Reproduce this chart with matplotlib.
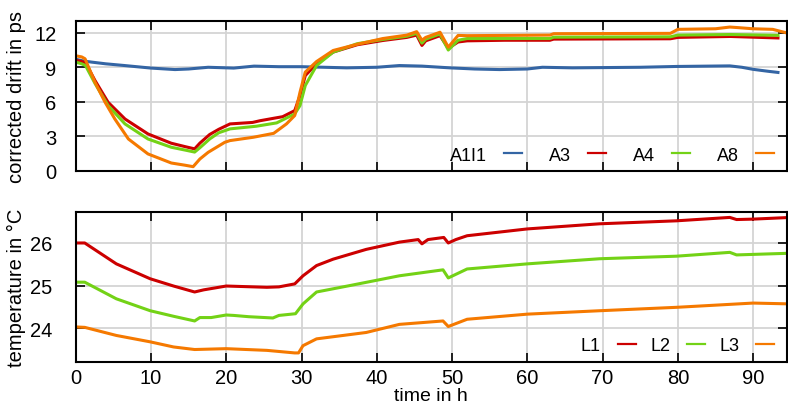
import matplotlib
matplotlib.use("Agg")
import matplotlib.pyplot as plt

plt.rcParams['font.family'] = ['Liberation Sans', 'DejaVu Sans']

# ---------------- data: top panel (corrected drift in ps) ----------------
a1i1_h = [0, 1, 2.1, 4, 6.5, 10, 13.2, 15, 17.6, 21, 23.7, 27, 30, 33, 36, 40, 43, 46,
          49.7, 53, 56.3, 60, 62, 66, 69.6, 75, 79.8, 84, 86.9, 88.5, 90, 92, 93.3]
a1i1_v = [9.7, 9.55, 9.45, 9.3, 9.15, 8.93, 8.8, 8.85, 9.0, 8.93, 9.1, 9.05, 9.05, 9.0,
          8.95, 9.0, 9.15, 9.1, 8.95, 8.85, 8.8, 8.85, 9.0, 8.95, 8.97, 9.0, 9.07, 9.1,
          9.12, 9.0, 8.82, 8.65, 8.55]

a3_h = [0, 0.8, 1.3, 2.56, 4.3, 6.55, 9.6, 12.7, 14.5, 15.8, 16.5, 17.8, 19, 20.5, 23.5,
        24.5, 26.2, 27.5, 29.1, 29.8, 30.5, 32, 34.2, 37.4, 40.8, 44, 45.3, 46.0, 46.5,
        48.4, 49.5, 50.8, 52, 57, 63, 63.5, 79, 80, 87, 93.3]
a3_v = [9.6, 9.5, 9.4, 7.85, 5.96, 4.5, 3.2, 2.39, 2.1, 1.9, 2.4, 3.15, 3.6, 4.07, 4.2,
        4.35, 4.55, 4.7, 5.23, 6.54, 8.28, 9.3, 10.32, 10.96, 11.33, 11.6, 11.8, 10.9, 11.3,
        11.75, 10.65, 11.2, 11.3, 11.35, 11.35, 11.45, 11.48, 11.6, 11.68, 11.55]

a4_h = [0, 0.8, 1.3, 2.56, 4.3, 6.55, 9.6, 12.7, 14.5, 15.8, 16.5, 17.8, 19, 20.5, 24,
        26.7, 29.1, 29.8, 30.5, 32, 34.2, 37.4, 40.8, 44, 45.3, 46.0, 46.5, 48.4, 49.5,
        50.8, 52, 63, 63.5, 79, 80, 87, 93.3]
a4_v = [9.45, 9.3, 9.15, 7.6, 5.67, 4.07, 2.76, 2.04, 1.8, 1.62, 2.0, 2.76, 3.3, 3.64, 3.87,
        4.16, 4.94, 5.67, 7.41, 9.15, 10.32, 11.05, 11.42, 11.7, 11.95, 11.1, 11.45, 11.9,
        10.5, 11.35, 11.5, 11.5, 11.62, 11.65, 11.8, 11.85, 11.78]

a8_h = [0, 0.8, 1.24, 2.56, 3.9, 5.2, 7.0, 9.6, 12.7, 14.5, 15.6, 16.5, 17.6, 19.8, 20.5,
        23.6, 26.3, 28, 29.1, 29.8, 30.5, 32, 34.2, 37.4, 40.8, 44, 45.3, 46.0, 46.5, 48.4,
        49.5, 50.8, 52, 63, 63.5, 79, 80, 85, 86.9, 88, 90, 92.6, 94.4, 95]
a8_v = [10.0, 9.9, 9.74, 7.7, 5.96, 4.5, 2.76, 1.46, 0.67, 0.48, 0.35, 1.02, 1.6, 2.47, 2.62,
        2.91, 3.25, 4.07, 4.8, 6.83, 8.58, 9.5, 10.46, 11.0, 11.5, 11.8, 12.1, 11.35, 11.6,
        12.05, 10.75, 11.77, 11.75, 11.8, 11.92, 11.95, 12.3, 12.35, 12.5, 12.45, 12.35,
        12.3, 12.0, 11.95]

# ---------------- data: bottom panel (temperature in degC) ----------------
l1_h = [0, 1.2, 5.4, 9.9, 13, 15.8, 17, 20, 25.4, 27, 29.1, 30.2, 32, 34.2, 38.6, 43,
        45.5, 46, 46.8, 48.9, 49.5, 50.5, 52, 60, 69.6, 79.8, 86.9, 87.8, 90, 95]
l1_v = [26.0, 26.0, 25.51, 25.16, 24.99, 24.85, 24.9, 24.99, 24.96, 24.97, 25.04, 25.23,
        25.47, 25.62, 25.85, 26.02, 26.08, 25.98, 26.08, 26.13, 26.0, 26.08, 26.17, 26.33,
        26.45, 26.52, 26.6, 26.55, 26.56, 26.6]

l2_h = [0, 1.2, 5.4, 9.9, 13, 15.8, 16.5, 18, 20, 21, 23, 26.2, 27, 29.2, 30.2, 32, 36.4,
        43, 48.8, 49.5, 52, 60, 69.6, 79.8, 86.9, 87.8, 95]
l2_v = [25.08, 25.08, 24.69, 24.41, 24.28, 24.17, 24.25, 24.25, 24.31, 24.3, 24.27, 24.24,
        24.3, 24.34, 24.57, 24.85, 25.0, 25.23, 25.37, 25.18, 25.39, 25.51, 25.63, 25.69,
        25.78, 25.72, 25.76]

l3_h = [0, 1.2, 5.4, 9.9, 13, 15.8, 20, 25.4, 29.1, 29.6, 30.2, 32, 38.6, 43, 48.8, 49.5,
        52, 60, 69.6, 79.8, 90, 95]
l3_v = [24.03, 24.02, 23.83, 23.68, 23.56, 23.5, 23.52, 23.48, 23.42, 23.42, 23.59, 23.75,
        23.9, 24.09, 24.17, 24.04, 24.21, 24.33, 24.41, 24.49, 24.59, 24.57]

top_ticks = [0, 3, 6, 9, 12]
bottom_ticks = [24, 25, 26]
x_ticks = [0, 10, 20, 30, 40, 50, 60, 70, 80, 90]

BLUE, RED, GREEN, ORANGE = '#3465a4', '#cc0000', '#73d216', '#f57900'
FS = 14.5
LFS = 13

fig = plt.figure(figsize=(7.88, 4.06), dpi=100)
W, H = 788.0, 406.0
left = 75.7 / W
width = (787 - 75.7) / W
ax1 = fig.add_axes([left, 1 - 171.7 / H, width, (171.7 - 22.3) / H])
ax2 = fig.add_axes([left, 1 - 363.3 / H, width, (363.3 - 213.3) / H])


def style(ax):
    ax.set_xlim(0, 94.5)
    ax.set_xticks(x_ticks)
    ax.grid(True, color='#d4d4d4', lw=1.3, zorder=0)
    ax.set_axisbelow(True)
    for s in ax.spines.values():
        s.set_linewidth(1.5)
    ax.tick_params(direction='in', length=6.5, width=1.2, top=True, right=True,
                   labelsize=FS, colors='black')


lw = 2.2
ax1.plot(a1i1_h, a1i1_v, color=BLUE, lw=lw, label='A1I1')
ax1.plot(a3_h, a3_v, color=RED, lw=lw, label='A3')
ax1.plot(a4_h, a4_v, color=GREEN, lw=lw, label='A4')
ax1.plot(a8_h, a8_v, color=ORANGE, lw=lw, label='A8')
style(ax1)
ax1.set_ylim(0, 13)
ax1.set_yticks(top_ticks)
ax1.tick_params(labelbottom=False)
ax1.tick_params(axis='y', pad=14)
ax1.set_ylabel('corrected drift in ps', fontsize=FS)
ax1.yaxis.set_label_coords(-0.07, 0.5)

ax2.plot(l1_h, l1_v, color=RED, lw=lw, label='L1')
ax2.plot(l2_h, l2_v, color=GREEN, lw=lw, label='L2')
ax2.plot(l3_h, l3_v, color=ORANGE, lw=lw, label='L3')
style(ax2)
ax2.set_ylim(23.2, 26.72)
ax2.set_yticks(bottom_ticks)
ax2.tick_params(axis='y', pad=17)
ax2.tick_params(axis='x', pad=4)
ax2.set_ylabel('temperature in °C', fontsize=FS)
ax2.yaxis.set_label_coords(-0.07, 0.5)
ax2.set_xlabel('time in h', fontsize=14, labelpad=0)

for ax, yc, cs in [(ax1, 0.105, 1.5), (ax2, 0.11, 0.78)]:
    leg = ax.legend(loc='center right', bbox_to_anchor=(0.982, yc), ncol=4,
                    markerfirst=False, frameon=False, fontsize=LFS,
                    handlelength=1.0, handletextpad=0.94, columnspacing=cs,
                    borderpad=0, borderaxespad=0)
    for ln in leg.get_lines():
        ln.set_linewidth(1.6)

fig.savefig('out.png', dpi=100)
